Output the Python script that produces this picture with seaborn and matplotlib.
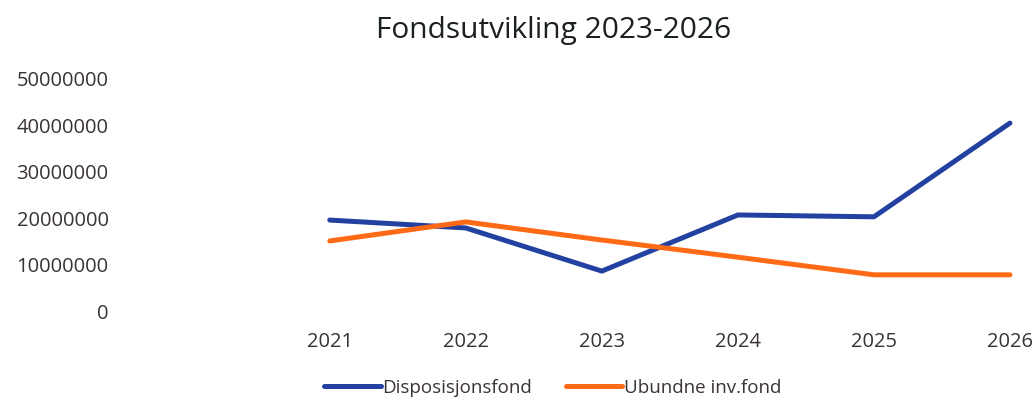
import pandas as pd
import matplotlib.pyplot as plt
import matplotlib as mpl
import seaborn as sns

years = [2021, 2022, 2023, 2024, 2025, 2026]
disposisjonsfond = [19600000, 17900000, 8600000, 20700000, 20300000, 40500000]
ubundne_inv_fond = [15100000, 19200000, 15300000, 11600000, 7800000, 7800000]
series_names = ['Disposisjonsfond', 'Ubundne inv.fond']
y_ticks = [0, 10000000, 20000000, 30000000, 40000000, 50000000]

sns.set_style('white')
mpl.rcParams['font.family'] = ['Open Sans', 'DejaVu Sans']

df = pd.DataFrame({
    'year': years * 2,
    'value': disposisjonsfond + ubundne_inv_fond,
    'serie': [series_names[0]] * len(years) + [series_names[1]] * len(years),
})

fig = plt.figure(figsize=(10.32, 4.01), dpi=100)
ax = fig.add_axes([0.116, 0.2244, 0.884, 0.5786])

sns.lineplot(data=df, x='year', y='value', hue='serie',
             palette=['#2341A0', '#FF6A17'], linewidth=3.6, ax=ax,
             legend=True, clip_on=False)

ax.set_xlim(2021 - 1.544, 2026 + 0.162)
ax.set_ylim(0, 50000000)
ax.set_xticks(years)
ax.set_xticklabels([str(y) for y in years])
ax.set_yticks(y_ticks)
ax.set_yticklabels([str(v) for v in y_ticks])
ax.tick_params(axis='x', length=0, pad=15, labelsize=14.5, colors='#3a3333')
ax.tick_params(axis='y', length=0, pad=8, labelsize=14.5, colors='#3a3333')
ax.set_xlabel('')
ax.set_ylabel('')
sns.despine(ax=ax, left=True, bottom=True)

fig.text(0.536, 0.925, 'Fondsutvikling 2023-2026', ha='center', va='center',
         fontsize=21.5, color='#1b2020')

ax.legend(loc='center', bbox_to_anchor=(0.475, -0.33), ncol=2, frameon=False,
          fontsize=13.5, handlelength=3.0, handletextpad=0.1, columnspacing=1.8,
          labelcolor='#3a3333')

fig.savefig('out.png', dpi=100)
